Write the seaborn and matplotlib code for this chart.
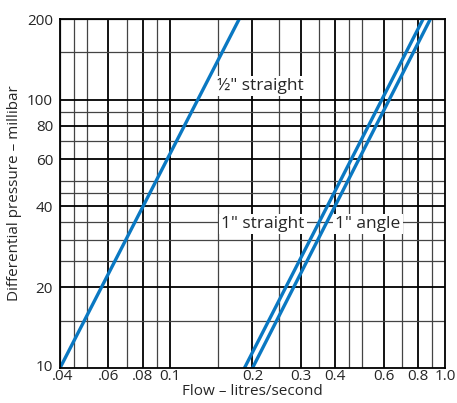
import matplotlib.pyplot as plt
import matplotlib.transforms as mtransforms
import seaborn as sns
import pandas as pd

# Flow (l/s) vs differential pressure (mbar)
half_straight_flow = [0.04, 0.179]
half_straight_dp = [10, 200]
one_straight_flow = [0.187, 0.833]
one_straight_dp = [10, 200]
one_angle_flow = [0.200, 0.885]
one_angle_dp = [10, 200]

x_grid = [0.04, 0.045, 0.05, 0.06, 0.07, 0.08, 0.09, 0.1, 0.15, 0.2, 0.25,
          0.3, 0.35, 0.4, 0.45, 0.5, 0.6, 0.7, 0.8, 0.9, 1.0]
x_major = [0.06, 0.08, 0.1, 0.2, 0.3, 0.4, 0.6, 0.8]
x_ticks = [0.04, 0.06, 0.08, 0.1, 0.2, 0.3, 0.4, 0.6, 0.8, 1.0]
x_labels = ['.04', '.06', '.08', '0.1', '0.2', '0.3', '0.4', '0.6', '0.8', '1.0']
y_grid = [10, 15, 20, 25, 30, 35, 40, 45, 50, 60, 70, 80, 90, 100, 150, 200]
y_major = [20, 40, 60, 80, 100]
y_ticks = [10, 20, 40, 60, 80, 100, 200]
y_labels = ['10', '20', '40', '60', '80', '100', '200']

sns.set_style('white')
plt.rcParams['font.family'] = ['Open Sans', 'DejaVu Sans']

df = pd.concat([
    pd.DataFrame({'flow': half_straight_flow, 'dp': half_straight_dp, 'valve': 'half'}),
    pd.DataFrame({'flow': one_straight_flow, 'dp': one_straight_dp, 'valve': 'one_s'}),
    pd.DataFrame({'flow': one_angle_flow, 'dp': one_angle_dp, 'valve': 'one_a'}),
])

fig = plt.figure(figsize=(4.57, 4.03), dpi=100)
ax = fig.add_axes([0.1313, 0.0868, 0.9737 - 0.1313, 0.9529 - 0.0868])
ax.set_xscale('log')
ax.set_yscale('log')
ax.set_xlim(0.04, 1.0)
ax.set_ylim(10, 200)

# grid lines
for x in x_grid:
    major = x in x_major
    ax.axvline(x, color='black' if major else '#444444', lw=1.3 if major else 0.9, zorder=1)
for y in y_grid:
    major = y in y_major
    ax.axhline(y, color='black' if major else '#444444', lw=1.3 if major else 0.9, zorder=1)

sns.lineplot(data=df, x='flow', y='dp', units='valve', estimator=None,
             color='#0a78c2', lw=2.4, ax=ax, zorder=3, legend=False)

box = dict(facecolor='white', edgecolor='none', pad=1.5)
ax.annotate('½" straight', xy=(0.52, 0.808), xycoords='axes fraction',
            ha='center', va='center', fontsize=12.5, bbox=box, zorder=4)
ax.annotate('1" straight', xy=(0.527, 0.413), xycoords='axes fraction',
            ha='center', va='center', fontsize=12.5, bbox=box, zorder=4)
ax.annotate('1" angle', xy=(0.80, 0.413), xycoords='axes fraction',
            ha='center', va='center', fontsize=12.5, bbox=box, zorder=4)

ax.set_xticks(x_ticks)
ax.set_xticklabels(x_labels)
ax.set_yticks(y_ticks)
ax.set_yticklabels(y_labels)
ax.minorticks_off()
ax.tick_params(length=0, labelsize=11)
ax.tick_params(axis='x', pad=1)
ax.tick_params(axis='y', pad=5)

# nudge the corner labels apart like the original
xl0 = ax.get_xticklabels()[0]
xl0.set_transform(xl0.get_transform() + mtransforms.ScaledTranslation(3 / 100, 0, fig.dpi_scale_trans))
yl0 = ax.get_yticklabels()[0]
yl0.set_transform(yl0.get_transform() + mtransforms.ScaledTranslation(0, 3 / 100, fig.dpi_scale_trans))
ylt = ax.get_yticklabels()[-1]
ylt.set_transform(ylt.get_transform() + mtransforms.ScaledTranslation(0, -1 / 100, fig.dpi_scale_trans))

ax.set_xlabel('Flow – litres/second', fontsize=11, labelpad=0)
ax.set_ylabel('Differential pressure – millibar', fontsize=11, labelpad=4)
for s in ax.spines.values():
    s.set_color('black')
    s.set_linewidth(1.3)
    s.set_zorder(5)

fig.savefig('out.png', dpi=100)
